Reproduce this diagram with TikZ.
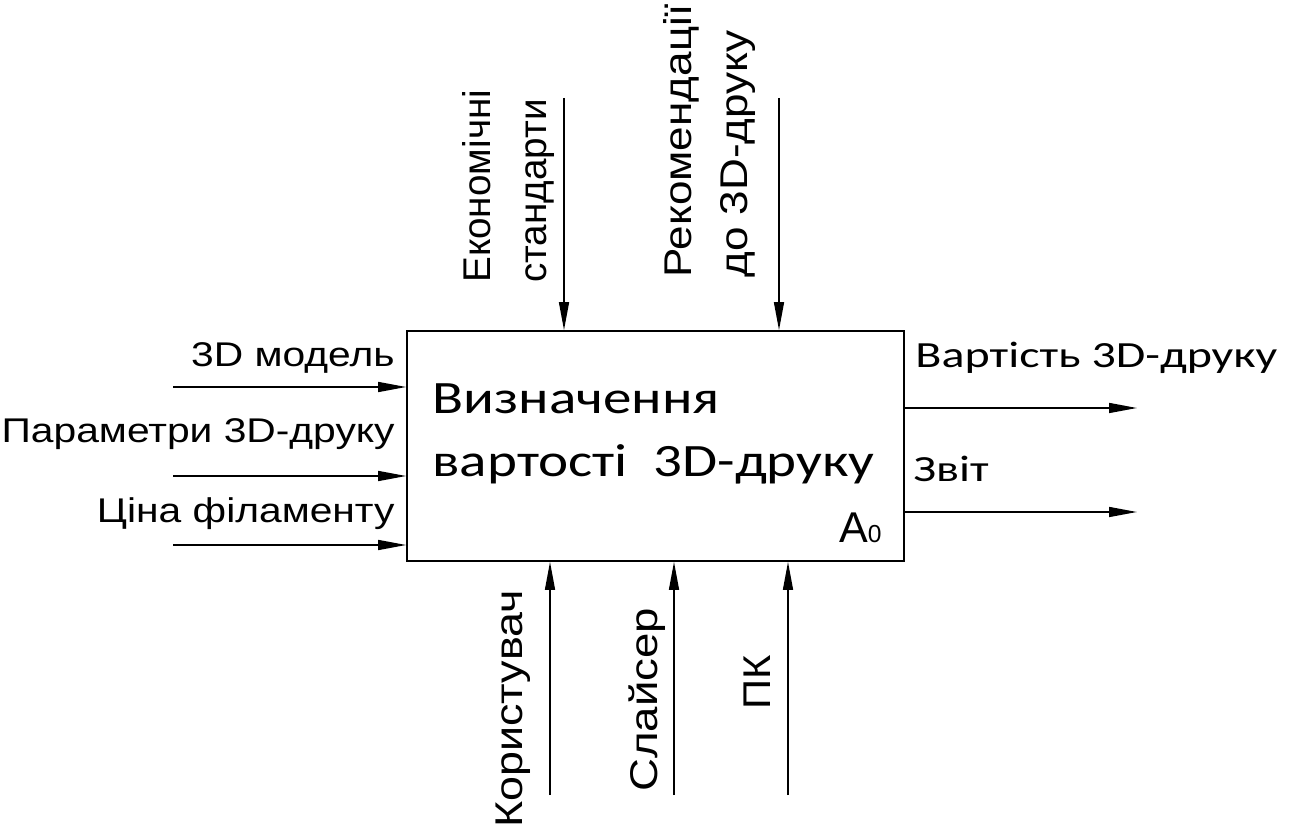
\documentclass[tikz,border=0pt]{standalone}
\usepackage{fontspec}
\setmainfont{Liberation Sans}
\newfontfamily\calfont{Carlito}
\usetikzlibrary{arrows.meta}

\begin{document}
\begin{tikzpicture}[
    flow/.style={line width=0.85pt, -{Triangle[length=5.6mm,width=2mm]}},
    lbl/.style={font=\fontsize{19.5}{23}\selectfont, inner sep=0pt, xscale=1.19},
    outlbl/.style={font=\calfont\fontsize{21}{25}\selectfont, inner sep=0pt, xscale=1.3},
    vlbl/.style={font=\fontsize{22}{32}\selectfont, inner sep=0pt, rotate=90, align=left}
]
\useasboundingbox (0,0) rectangle (25.86,-16.58);

% function block
\node[draw, line width=1pt, minimum width=9.94cm, minimum height=4.6cm, inner sep=0pt] (box) at (13.11,-8.92) {};
\node[anchor=base west, align=left, inner sep=0pt, xscale=1.23, font=\calfont\fontsize{26.4}{36.3}\selectfont] (title) at (8.64,-9.54) {Визначення\\вартості~ 3D-друку};
\node[anchor=base east, inner sep=0pt, font=\fontsize{24.5}{28}\selectfont] (code) at (17.64,-10.86) {A\fontsize{14}{16}\selectfont 0};

% inputs
\coordinate (in1) at (3.46,-7.74);
\coordinate (in2) at (3.46,-9.52);
\coordinate (in3) at (3.46,-10.9);
\draw[flow] (in1) -- (in1 -| box.west);
\draw[flow] (in2) -- (in2 -| box.west);
\draw[flow] (in3) -- (in3 -| box.west);
\node[lbl, anchor=base east] (model) at (7.9,-7.34) {3D модель};
\node[lbl, anchor=base east] (param) at (7.9,-8.86) {Параметри 3D-друку};
\node[lbl, anchor=base east] (price) at (7.9,-10.46) {Ціна філаменту};

% controls
\coordinate (ctl1) at (11.28,-1.96);
\coordinate (ctl2) at (15.58,-1.96);
\draw[flow] (ctl1) -- (ctl1 |- box.north);
\draw[flow] (ctl2) -- (ctl2 |- box.north);
\node[vlbl, anchor=south west] (econ) at (11.1,-5.66) {Економічні\\стандарти};
\node[vlbl, anchor=south west, xscale=1.14] (recom) at (15.12,-5.56) {Рекомендації\\до 3D-друку};

% mechanisms
\coordinate (mech1) at (11.0,-15.9);
\coordinate (mech2) at (13.48,-15.9);
\coordinate (mech3) at (15.76,-15.9);
\draw[flow] (mech1) -- (mech1 |- box.south);
\draw[flow] (mech2) -- (mech2 |- box.south);
\draw[flow] (mech3) -- (mech3 |- box.south);
\node[vlbl, anchor=base west, xscale=1.16] (user) at (10.44,-16.56) {Користувач};
\node[vlbl, anchor=base west, xscale=1.18] (slicer) at (13.14,-15.84) {Слайсер};
\node[vlbl, anchor=base west, xscale=1.08] (pc) at (15.4,-14.2) {ПК};

% outputs
\coordinate (out1) at (22.74,-8.16);
\coordinate (out2) at (22.74,-10.24);
\draw[flow] (out1 -| box.east) -- (out1);
\draw[flow] (out2 -| box.east) -- (out2);
\node[outlbl, anchor=base west] (cost) at (18.3,-7.36) {Вартість 3D-друку};
\node[outlbl, anchor=base west] (report) at (18.26,-9.64) {Звіт};
\end{tikzpicture}
\end{document}
